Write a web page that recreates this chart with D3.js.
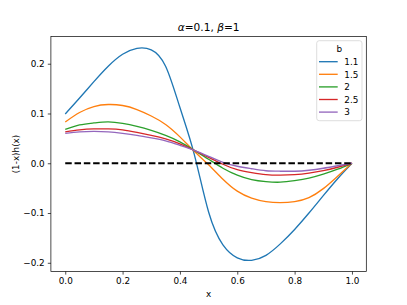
<!DOCTYPE html>
<html>
<head>
<meta charset="utf-8">
<script src="https://cdn.jsdelivr.net/npm/d3@7"></script>
<style>
  body { margin: 0; background: #fff; }
  svg { font-family: "DejaVu Sans", sans-serif; }
</style>
</head>
<body>
<div id="chart"></div>
<script>
// x grid shared by all curves
var xs = [0, 0.05, 0.1, 0.15, 0.2, 0.25, 0.3, 0.35, 0.4, 0.45, 0.5,
          0.55, 0.6, 0.65, 0.7, 0.75, 0.8, 0.85, 0.9, 0.95, 1.0];
var bValues = ["1.1", "1.5", "2", "2.5", "3"];
var y_b11 = [0.099, 0.131, 0.164, 0.195, 0.219, 0.231, 0.228, 0.195, 0.112, 0.018, -0.098,
             -0.164, -0.190, -0.195, -0.185, -0.162, -0.133, -0.100, -0.065, -0.031, 0];
var y_b15 = [0.083, 0.102, 0.114, 0.118, 0.116, 0.108, 0.095, 0.078, 0.053, 0.024, -0.003,
             -0.032, -0.056, -0.070, -0.077, -0.079, -0.077, -0.069, -0.051, -0.026, 0];
var y_b2  = [0.068, 0.077, 0.081, 0.083, 0.080, 0.074, 0.066, 0.056, 0.043, 0.026, 0.008,
             -0.010, -0.024, -0.033, -0.037, -0.038, -0.035, -0.030, -0.022, -0.012, 0];
var y_b25 = [0.063, 0.067, 0.069, 0.069, 0.067, 0.062, 0.056, 0.049, 0.039, 0.026, 0.012,
             -0.002, -0.013, -0.019, -0.023, -0.024, -0.023, -0.020, -0.015, -0.008, 0];
var y_b3  = [0.060, 0.063, 0.064, 0.063, 0.060, 0.056, 0.051, 0.045, 0.036, 0.026, 0.014,
             0.002, -0.006, -0.011, -0.015, -0.016, -0.016, -0.014, -0.010, -0.005, 0];
var colors = ["#1f77b4", "#ff7f0e", "#2ca02c", "#d62728", "#9467bd"];
var xTicks = [0, 0.2, 0.4, 0.6, 0.8, 1.0];
var yTicks = [-0.2, -0.1, 0, 0.1, 0.2];

var seriesY = [y_b11, y_b15, y_b2, y_b25, y_b3];

var width = 407, height = 305;
var mLeft = 50.9, mRight = 366.3, mTop = 36.6, mBottom = 271.5;
var fs = 8.83;

var svg = d3.select("#chart").append("svg")
  .attr("width", width).attr("height", height);

var x = d3.scaleLinear().domain([-0.05, 1.05]).range([mLeft, mRight]);
var y = d3.scaleLinear().domain([-0.2175, 0.2545]).range([mBottom, mTop]);

var gLines = svg.append("g");
var line = d3.line()
  .x(function(d) { return x(d[0]); })
  .y(function(d) { return y(d[1]); })
  .curve(d3.curveNatural);

seriesY.forEach(function(ys, i) {
  gLines.append("path")
    .datum(xs.map(function(v, j) { return [v, ys[j]]; }))
    .attr("d", line)
    .attr("fill", "none")
    .attr("stroke", colors[i])
    .attr("stroke-width", 1.33);
});

// zero reference
gLines.append("line")
  .attr("x1", x(0)).attr("x2", x(1))
  .attr("y1", y(0)).attr("y2", y(0))
  .attr("stroke", "black")
  .attr("stroke-width", 1.77)
  .attr("stroke-dasharray", "6.5,2.8");

// axes
var fmt = d3.format(".1f");
var gx = svg.append("g").attr("transform", "translate(0," + mBottom + ")")
  .call(d3.axisBottom(x).tickValues(xTicks).tickFormat(fmt).tickSize(3.1).tickPadding(3.1));
var gy = svg.append("g").attr("transform", "translate(" + mLeft + ",0)")
  .call(d3.axisLeft(y).tickValues(yTicks).tickFormat(fmt).tickSize(3.1).tickPadding(3.1));
[gx, gy].forEach(function(g) {
  g.select(".domain").remove();
  g.selectAll("line").attr("stroke", "black").attr("stroke-width", 0.7);
  g.selectAll("text").attr("font-size", fs).attr("fill", "black")
    .attr("font-family", "DejaVu Sans");
});

svg.append("rect")
  .attr("x", mLeft).attr("y", mTop)
  .attr("width", mRight - mLeft).attr("height", mBottom - mTop)
  .attr("fill", "none").attr("stroke", "black").attr("stroke-width", 0.7);

// labels
svg.append("text").attr("x", (mLeft + mRight) / 2).attr("y", 296.5)
  .attr("text-anchor", "middle").attr("font-size", fs).text("x");
svg.append("text")
  .attr("transform", "translate(18.5," + ((mTop + mBottom) / 2) + ") rotate(-90)")
  .attr("text-anchor", "middle").attr("font-size", fs).text("(1-x)h(x)");

var title = svg.append("text").attr("x", (mLeft + mRight) / 2).attr("y", 30.5)
  .attr("text-anchor", "middle").attr("font-size", 10.6);
title.append("tspan").attr("font-style", "italic").text("α");
title.append("tspan").text("=0.1, ");
title.append("tspan").attr("font-style", "italic").text("β");
title.append("tspan").text("=1");

// legend
var leg = svg.append("g");
leg.append("rect")
  .attr("x", 316.7).attr("y", 40.7).attr("width", 45.3).attr("height", 80)
  .attr("rx", 2.5).attr("fill", "white").attr("fill-opacity", 0.8)
  .attr("stroke", "#d0d0d0").attr("stroke-width", 0.7);
leg.append("text").attr("x", 339.3).attr("y", 51.5)
  .attr("text-anchor", "middle").attr("font-size", fs).text("b");
bValues.forEach(function(b, i) {
  var yy = 61.7 + i * 12.6;
  leg.append("line").attr("x1", 319).attr("x2", 337.7)
    .attr("y1", yy).attr("y2", yy)
    .attr("stroke", colors[i]).attr("stroke-width", 1.33);
  leg.append("text").attr("x", 344.3).attr("y", yy + 3.2)
    .attr("font-size", fs).text(b);
});
</script>
</body>
</html>
